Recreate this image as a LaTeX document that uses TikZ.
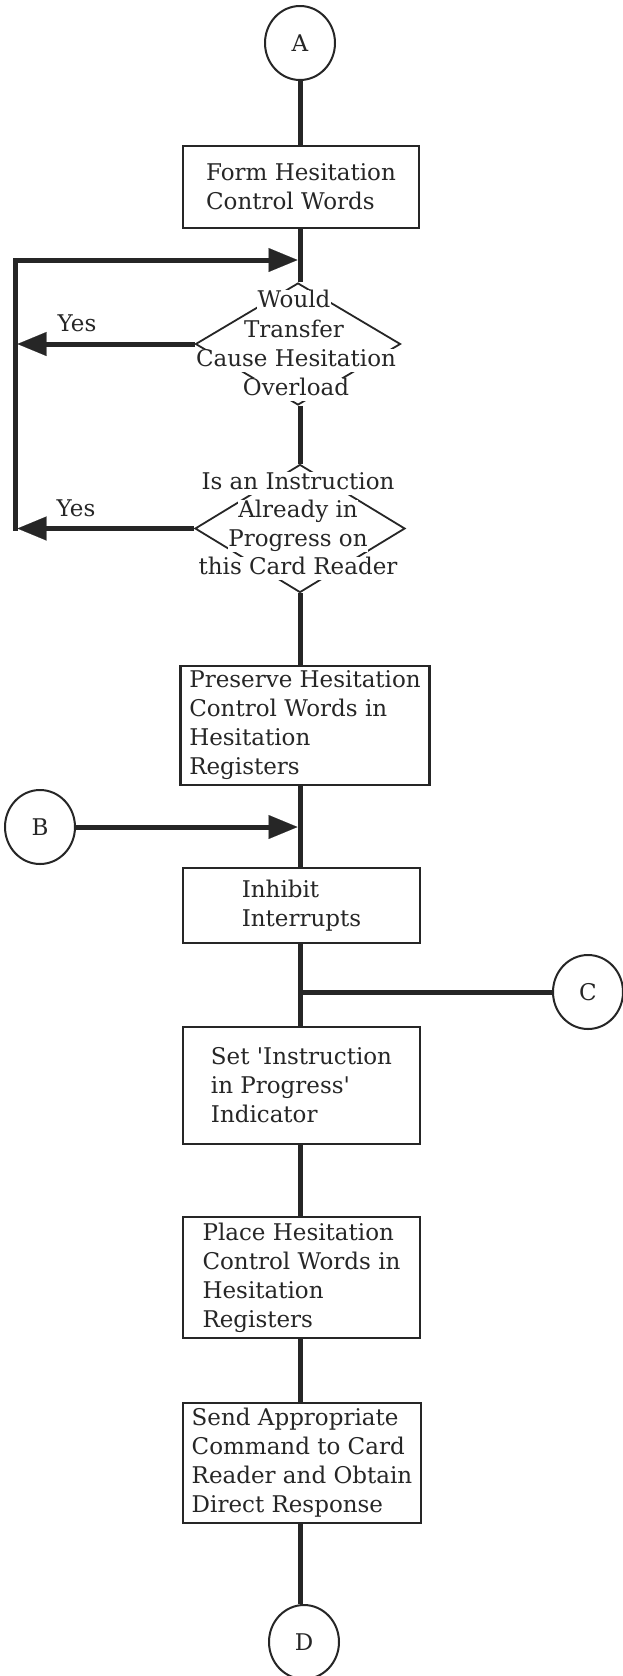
\documentclass[tikz,border=0pt]{standalone}
\usepackage{fontspec}
\setmainfont{DejaVu Serif}
\usetikzlibrary{arrows.meta,shapes.geometric}
\definecolor{inkc}{HTML}{262626}
\newcommand\flowfont{\fontsize{23}{29}\selectfont}
\begin{document}
\begin{tikzpicture}[x=1pt,y=-1pt,
  conn/.style={line width=5pt, draw=inkc, line join=miter},
  arr/.style={conn, -{Triangle[length=29pt,width=24pt,line width=0.1pt]}},
  procbox/.style={draw=inkc, line width=2.4pt, rectangle, inner sep=0pt, align=left, font=\flowfont, text=inkc},
  conncirc/.style={draw=inkc, line width=2pt, ellipse, minimum width=70pt, minimum height=74pt, inner sep=0pt, font=\flowfont, text=inkc},
  decshape/.style={draw=inkc, line width=1.8pt, diamond, inner sep=0pt},
  dline/.style={fill=white, inner sep=0.5pt, anchor=base, text height=17pt, text depth=5pt, font=\flowfont, text=inkc},
  lbl/.style={anchor=base, inner sep=0pt, font=\flowfont, text=inkc}
]
\useasboundingbox (0,0) rectangle (622,1676);
\fill[white] (0,0) rectangle (622,1676);
\coordinate (mx) at (300,0);

% connector circles
\node[conncirc] (A) at (300,43) {A};
\node[conncirc] (B) at (40,827) {B};
\node[conncirc] (C) at (588,992) {C};
\node[conncirc] (D) at (304,1642) {D};

% process boxes
\node[procbox, minimum width=236pt, minimum height=82pt] (b1) at (301,187) {Form Hesitation\\Control Words};
\node[procbox, minimum width=249pt, minimum height=119pt] (b2) at (305,725.5) {Preserve Hesitation\\Control Words in\\Hesitation\\Registers};
\node[procbox, minimum width=237pt, minimum height=75pt] (b3) at (301.5,905.5) {Inhibit\\Interrupts};
\node[procbox, minimum width=237pt, minimum height=117pt] (b4) at (301.5,1085.5) {Set \textquotesingle Instruction\\in Progress\textquotesingle\\Indicator};
\node[procbox, minimum width=237pt, minimum height=121pt] (b5) at (301.5,1277.5) {Place Hesitation\\Control Words in\\Hesitation\\Registers};
\node[procbox, minimum width=238pt, minimum height=120pt] (b6) at (302,1463) {Send Appropriate\\Command to Card\\Reader and Obtain\\Direct Response};

% decisions
\node[decshape, minimum width=205pt, minimum height=122pt] (d1) at (298,344) {};
\node[decshape, minimum width=210pt, minimum height=128pt] (d2) at (300,528.5) {};

% join points
\coordinate (j1) at (297.5,260);
\coordinate (lt) at (15,260);
\coordinate (lb) at (15,530.5);
\coordinate (y1) at (17.5,344);
\coordinate (y2) at (17.5,528.5);
\coordinate (jb) at (297.5,827);
\coordinate (jc) at (300,992);

% main line
\draw[conn] (A.south -| mx) -- (b1.north -| mx);
\draw[conn] (b1.south -| mx) -- (d1.north -| mx);
\draw[conn] (d1.south -| mx) -- (d2.north -| mx);
\draw[conn] (d2.south -| mx) -- (b2.north -| mx);
\draw[conn] (b2.south -| mx) -- (b3.north -| mx);
\draw[conn] (b3.south -| mx) -- (b4.north -| mx);
\draw[conn] (b4.south -| mx) -- (b5.north -| mx);
\draw[conn] (b5.south -| mx) -- (b6.north -| mx);
\draw[conn] (b6.south -| mx) -- (D.north -| mx);

% loop back
\draw[arr] (lb) -- (lt) -- (j1);
\draw[arr] (d1.west) -- (y1);
\draw[arr] (d2.west) -- (y2);
\draw[arr] (B.east) -- (jb);
\draw[conn] (jc) -- (C.west);

% decision texts
\node[dline] (t11) at (294,307) {Would};
\node[dline] (t12) at (294,337) {Transfer};
\node[dline] (t13) at (296,366) {Cause Hesitation};
\node[dline] (t14) at (296,395) {Overload};
\node[dline] (t21) at (298,489) {Is an Instruction};
\node[dline] (t22) at (298,517.5) {Already in};
\node[dline] (t23) at (298,546) {Progress on};
\node[dline] (t24) at (298,574.5) {this Card Reader};

% labels
\node[lbl] (yes1) at (77,331) {Yes};
\node[lbl] (yes2) at (76,516) {Yes};
\end{tikzpicture}
\end{document}
